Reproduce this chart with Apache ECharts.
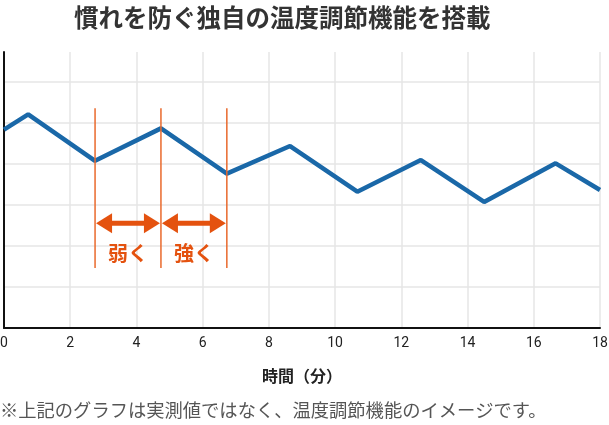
<!DOCTYPE html>
<html>
<head>
<meta charset="utf-8">
<script src="https://cdn.jsdelivr.net/npm/echarts@6/dist/echarts.min.js"></script>
<style>
  html, body { margin: 0; padding: 0; background: #fff; }
  #main { width: 609px; height: 425px; }
</style>
</head>
<body>
<div id="main"></div>
<script>
// 時間（分）と温度のイメージ値
var timeMin = [0, 0.73, 2.75, 4.74, 6.73, 8.64, 10.67, 12.59, 14.5, 16.66, 18];
var tempLevel = [4.83, 5.2, 4.07, 4.86, 3.76, 4.43, 3.32, 4.09, 3.07, 4.01, 3.36];
var xTicks = [0, 2, 4, 6, 8, 10, 12, 14, 16, 18];

// 注釈（縦線と矢印）
var guideX = [2.75, 4.74, 6.73];
var guideRange = [1.46, 5.35];
var arrowSpans = [[2.75, 4.74, '弱く'], [4.74, 6.73, '強く']];
var arrowLevel = 2.55;
var labelLevel = 1.82;

var FONT = 'Roboto, "Noto Sans CJK JP", sans-serif';
var JP = '"Noto Sans CJK JP", sans-serif';
var ORANGE = '#e4520f';

function initChart() {
    var myChart = echarts.init(document.getElementById('main'));

    var lineData = timeMin.map(function (t, i) { return [t, tempLevel[i]]; });

    var option = {
        animation: false,
        title: {
            text: '慣れを防ぐ独自の温度調節機能を搭載',
            left: 74,
            top: 5,
            padding: 0,
            textStyle: { fontFamily: JP, fontSize: 24.5, fontWeight: 'bold', color: '#333' }
        },
        graphic: [{
            type: 'text',
            left: 0,
            top: 401,
            style: {
                text: '※上記のグラフは実測値ではなく、温度調節機能のイメージです。',
                font: '18.3px ' + JP,
                fill: '#555'
            }
        }],
        grid: { left: 4, right: 9, top: 52, bottom: 97, outerBoundsMode: 'none' },
        xAxis: {
            type: 'value',
            min: xTicks[0],
            max: xTicks[xTicks.length - 1],
            interval: xTicks[1] - xTicks[0],
            name: '時間（分）',
            nameLocation: 'middle',
            nameGap: 40,
            nameTextStyle: { fontFamily: JP, fontSize: 16, fontWeight: 'bold', color: '#222' },
            axisLine: { lineStyle: { color: '#111', width: 2 } },
            axisTick: { show: false },
            axisLabel: { margin: 9, fontFamily: FONT, fontSize: 14, color: '#222' },
            splitLine: { show: true, lineStyle: { color: '#e6e6e6', width: 1.5 } }
        },
        yAxis: {
            type: 'value',
            min: 0,
            max: 6.72,
            interval: 1,
            axisLine: { show: true, lineStyle: { color: '#111', width: 2 } },
            axisTick: { show: false },
            axisLabel: { show: false },
            splitLine: { show: true, showMaxLine: false, lineStyle: { color: '#e6e6e6', width: 1.5 } }
        },
        series: [
            {
                name: '温度',
                type: 'line',
                data: lineData,
                symbol: 'none',
                z: 2,
                lineStyle: { color: '#1a68a8', width: 4.5 }
            },
            {
                name: 'guides',
                type: 'custom',
                z: 3,
                data: guideX,
                renderItem: function (params, api) {
                    var x = api.value(0);
                    var p1 = api.coord([x, guideRange[0]]);
                    var p2 = api.coord([x, guideRange[1]]);
                    return {
                        type: 'line',
                        shape: { x1: p1[0], y1: p1[1], x2: p2[0], y2: p2[1] },
                        style: { stroke: '#e9692c', lineWidth: 1.5 }
                    };
                }
            },
            {
                name: 'arrows',
                type: 'custom',
                z: 4,
                data: arrowSpans,
                renderItem: function (params, api) {
                    var a = api.coord([api.value(0), arrowLevel]);
                    var b = api.coord([api.value(1), arrowLevel]);
                    var y = a[1];
                    var x1 = a[0] + 1, x2 = b[0] - 1;
                    var hl = 16, hw = 10, sw = 2.6;
                    var txt = api.coord([(api.value(0) + api.value(1)) / 2, labelLevel]);
                    return {
                        type: 'group',
                        children: [
                            { type: 'rect', shape: { x: x1 + hl - 1, y: y - sw, width: x2 - x1 - 2 * hl + 2, height: sw * 2 },
                              style: { fill: ORANGE } },
                            { type: 'polygon', shape: { points: [[x1, y], [x1 + hl, y - hw], [x1 + hl, y + hw]] },
                              style: { fill: ORANGE } },
                            { type: 'polygon', shape: { points: [[x2, y], [x2 - hl, y - hw], [x2 - hl, y + hw]] },
                              style: { fill: ORANGE } },
                            { type: 'text', x: txt[0], y: txt[1],
                              style: { text: arrowSpans[params.dataIndex][2], font: 'bold 20px ' + JP,
                                       fill: ORANGE, align: 'center', verticalAlign: 'middle' } }
                        ]
                    };
                }
            }
        ]
    };
    myChart.setOption(option);
}

initChart();
</script>
</body>
</html>
